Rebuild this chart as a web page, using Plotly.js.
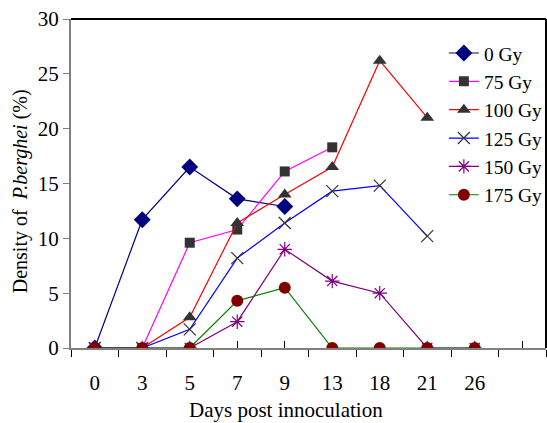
<!DOCTYPE html>
<html>
<head>
<meta charset="utf-8">
<script src="https://cdn.plot.ly/plotly-3.0.1.min.js"></script>
<style>html,body{margin:0;padding:0;background:#fff}#chart{width:547px;height:423px}</style>
</head>
<body>
<div id="chart"></div>
<script>
const days = ['0','3','5','7','9','13','18','21','26'];
const gy0   = [0, 11.7, 16.5, 13.6, 12.9];
const gy75  = [0, 0, 9.6, 10.8, 16.1, 18.3];
const gy100 = [0, 0, 2.8, 11.4, 14.0, 16.5, 26.2, 21.0];
const gy125 = [0, 0, 1.7, 8.2, 11.4, 14.3, 14.8, 10.2];
const gy150 = [0, 0, 0, 2.4, 9.0, 6.1, 5.0, 0, 0];
const gy175 = [0, 0, 0, 4.3, 5.5, 0, 0, 0, 0];
const names = ['0 Gy','75 Gy','100 Gy','125 Gy','150 Gy','175 Gy'];

const idx = arr => arr.map((_, i) => i);
const font = "'Liberation Serif', 'Times New Roman', serif";

const specs = [
  {y: gy0,   line: '#000080', marker: {symbol: 'diamond', size: 13, color: '#000080'}},
  {y: gy75,  line: '#ff00ff', marker: {symbol: 'square', size: 10, color: '#333333'}},
  {y: gy100, line: '#ff0000', marker: {symbol: 'triangle-up', size: 12, color: '#333333'}},
  {y: gy125, line: '#0000ff', marker: {symbol: 'x-thin-open', size: 12, color: '#333333', line: {width: 1.2, color: '#333333'}}},
  {y: gy150, line: '#800080', marker: {symbol: 'asterisk-open', size: 12, color: '#800080', line: {width: 1.2, color: '#800080'}}},
  {y: gy175, line: '#008000', marker: {symbol: 'circle', size: 12, color: '#800000'}}
];

const traces = specs.map((s, i) => ({
  type: 'scatter', mode: 'lines+markers', name: names[i],
  x: idx(s.y), y: s.y,
  line: {color: s.line, width: 1.2},
  marker: s.marker,
  xaxis: 'x', yaxis: 'y'
}));
traces.push({type: 'scatter', x: [0], y: [0], xaxis: 'x2', yaxis: 'y', showlegend: false, hoverinfo: 'skip', mode: 'markers', marker: {opacity: 0}});

const boundaries = [];
for (let i = -0.5; i <= 9.5; i += 1) boundaries.push(i);

const layout = {
  width: 547, height: 423,
  margin: {l: 71, r: 1, t: 19, b: 75, autoexpand: false},
  paper_bgcolor: '#fff', plot_bgcolor: '#fff',
  font: {family: font, size: 21, color: '#000'},
  showlegend: true,
  legend: {x: 0.785, y: 0.955, xanchor: 'left', yanchor: 'top', bgcolor: 'rgba(0,0,0,0)', font: {family: font, size: 19.5, color: '#000'}, itemwidth: 30},
  xaxis: {
    range: [-0.5, 9.5], tickmode: 'array', tickvals: idx(days), ticktext: days,
    ticks: '', showgrid: false, zeroline: false,
    showline: true, linecolor: '#808080', linewidth: 2,
    ticklabelstandoff: 15,
    tickfont: {family: font, size: 21, color: '#000'},
    minor: {tickmode: 'array', tickvals: boundaries, ticks: 'outside', ticklen: 7, tickcolor: '#000', tickwidth: 1, showgrid: false}
  },
  xaxis2: {
    overlaying: 'x', matches: 'x', range: [-0.5, 9.5], tickmode: 'array', tickvals: [3, 4, 9],
    ticks: 'inside', ticklen: 7, tickcolor: '#000', showticklabels: false, showgrid: false, zeroline: false, showline: false, side: 'bottom'
  },
  yaxis: {
    range: [0, 30], tickmode: 'array', tickvals: [0,5,10,15,20,25,30],
    ticks: 'outside', ticklen: 6, tickcolor: '#808080', tickwidth: 1,
    showgrid: false, zeroline: false, showline: true, linecolor: '#808080', linewidth: 2,
    tickfont: {family: font, size: 21, color: '#000'}
  },
  annotations: [
    {text: 'Density of  <i>P.berghei</i> (%)', textangle: -90, xref: 'paper', yref: 'paper',
     x: -0.107, y: 0.477, xanchor: 'center', yanchor: 'middle', showarrow: false,
     font: {family: font, size: 20, color: '#000'}},
    {text: 'Days post innoculation', xref: 'paper', yref: 'paper',
     x: 0.4526, y: -0.187, xanchor: 'center', yanchor: 'middle', showarrow: false,
     font: {family: font, size: 21, color: '#000'}}
  ],
  shapes: [
    {type: 'line', xref: 'paper', yref: 'paper', x0: 0, x1: 1, y0: 1, y1: 1, line: {color: '#000', width: 2}},
    {type: 'line', xref: 'paper', yref: 'paper', x0: 1, x1: 1, y0: 0, y1: 1, line: {color: '#000', width: 2}}
  ]
};

Plotly.newPlot('chart', traces, layout, {displayModeBar: false, staticPlot: true});
</script>
</body>
</html>
